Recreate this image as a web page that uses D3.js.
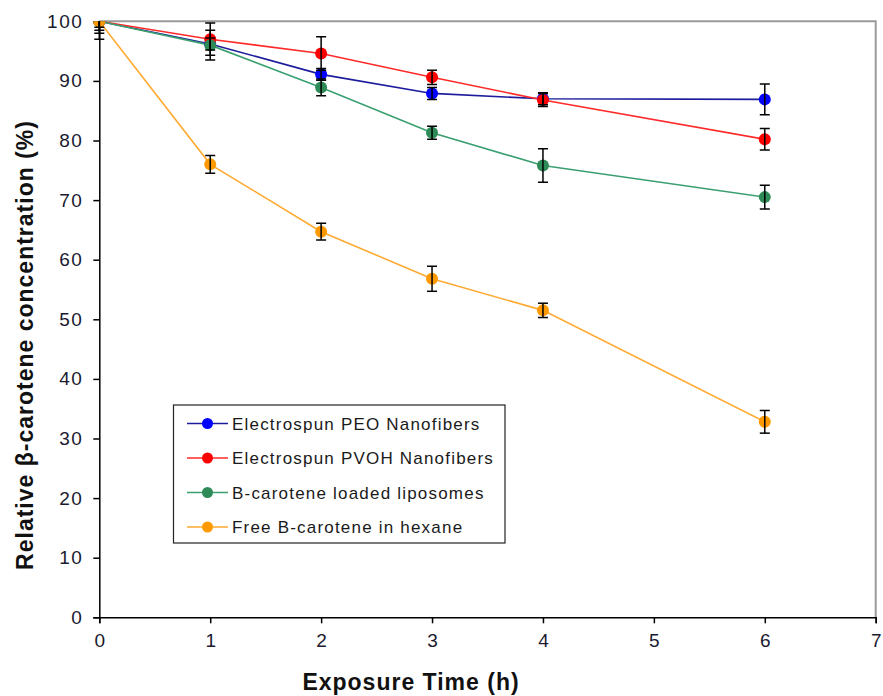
<!DOCTYPE html>
<html><head><meta charset="utf-8">
<script src="https://cdn.jsdelivr.net/npm/d3@7"></script>
<style>body{margin:0;background:#fff}svg{display:block;font-family:"Liberation Sans",Arial,sans-serif}</style>
</head><body><svg id="c" width="883" height="696"></svg>
<script>
const hours = [0, 1, 2, 3, 4, 6];
const seriesNames = ["Electrospun PEO Nanofibers", "Electrospun PVOH Nanofibers", "B-carotene loaded liposomes", "Free B-carotene in hexane"];
const peoValues   = [100, 96.2, 91.1, 87.9, 87.0, 86.9];
const peoErrors   = [1.5, 1.0, 1.0, 1.0, 1.0, 2.6];
const pvohValues  = [100, 97.0, 94.6, 90.6, 86.8, 80.2];
const pvohErrors  = [2.0, 2.7, 2.8, 1.2, 1.1, 1.8];
const lipoValues  = [100, 96.0, 88.9, 81.3, 75.8, 70.5];
const lipoErrors  = [3.0, 2.5, 1.4, 1.1, 2.8, 2.0];
const freeValues  = [100, 76.0, 64.7, 56.8, 51.5, 32.8];
const freeErrors  = [1.0, 1.5, 1.4, 2.1, 1.2, 1.9];
const xTicks = [0, 1, 2, 3, 4, 5, 6, 7];
const yTicks = [0, 10, 20, 30, 40, 50, 60, 70, 80, 90, 100];

const series = [
  {name: seriesNames[0], v: peoValues,  e: peoErrors,  fill: "#0000ff", line: "#1c1c9c"},
  {name: seriesNames[1], v: pvohValues, e: pvohErrors, fill: "#ff0000", line: "#ff2a2a"},
  {name: seriesNames[2], v: lipoValues, e: lipoErrors, fill: "#2e8b57", line: "#3aa070"},
  {name: seriesNames[3], v: freeValues, e: freeErrors, fill: "#ff9900", line: "#ffaa33"}
];

const svg = d3.select("#c");
const L = 99.3, R = 875.7, T = 21.3, B = 617.3;
const x = d3.scaleLinear().domain([0, 7]).range([L, R]);
const y = d3.scaleLinear().domain([0, 100]).range([B, T]);

svg.append("path").attr("d", `M${L},${T}H${R}V${B}`).attr("fill", "none").attr("stroke", "#9a9a9a").attr("stroke-width", 2);

svg.append("defs").append("clipPath").attr("id", "clip")
  .append("rect").attr("x", L - 20).attr("y", T).attr("width", R - L + 40).attr("height", B - T + 20);

const gx = svg.append("g").attr("transform", `translate(0,${B})`)
  .call(d3.axisBottom(x).tickValues(xTicks).tickFormat(d3.format("d")).tickSize(6).tickPadding(8));
const gy = svg.append("g").attr("transform", `translate(${L},0)`)
  .call(d3.axisLeft(y).tickValues(yTicks).tickFormat(d3.format("d")).tickSize(6).tickPadding(10));
[gx, gy].forEach(g => {
  g.select(".domain").attr("stroke", "#000").attr("stroke-width", 1.5);
  g.selectAll(".tick line").attr("stroke", "#000").attr("stroke-width", 1.5);
  g.selectAll(".tick text").attr("fill", "#1a1a30").style("font-size", "19px")
    .style("letter-spacing", "1.5px").style("font-family", "Liberation Sans, Arial, sans-serif");
});
gx.selectAll(".tick text").attr("dy", "0.82em").attr("dx", "0.75px");

const plot = svg.append("g").attr("clip-path", "url(#clip)");
const line = d3.line().x((d, i) => x(hours[i])).y(d => y(d));
series.forEach(s => {
  plot.append("path").datum(s.v).attr("d", line).attr("fill", "none")
    .attr("stroke", s.line).attr("stroke-width", 1.6);
});
series.forEach(s => {
  plot.selectAll(null).data(s.v).enter().append("circle")
    .attr("cx", (d, i) => x(hours[i])).attr("cy", d => y(d)).attr("r", 6).attr("fill", s.fill);
});
series.forEach(s => {
  const g = plot.append("g").attr("stroke", "#000").attr("stroke-width", 1.5);
  s.v.forEach((v, i) => {
    const cx = x(hours[i]), y1 = y(v + s.e[i]), y2 = y(v - s.e[i]);
    g.append("line").attr("x1", cx).attr("x2", cx).attr("y1", y1).attr("y2", y2);
    g.append("line").attr("x1", cx - 5).attr("x2", cx + 5).attr("y1", y1).attr("y2", y1);
    g.append("line").attr("x1", cx - 5).attr("x2", cx + 5).attr("y1", y2).attr("y2", y2);
  });
});

// legend
const lg = svg.append("g");
lg.append("rect").attr("x", 173.5).attr("y", 405).attr("width", 331.5).attr("height", 138)
  .attr("fill", "#fff").attr("stroke", "#222").attr("stroke-width", 1.2);
series.forEach((s, i) => {
  const yy = 423.5 + i * 34.5;
  lg.append("line").attr("x1", 187).attr("x2", 228).attr("y1", yy).attr("y2", yy).attr("stroke", s.line).attr("stroke-width", 1.6);
  lg.append("circle").attr("cx", 207.5).attr("cy", yy).attr("r", 5.5).attr("fill", s.fill);
  lg.append("text").attr("x", 232).attr("y", yy).attr("dy", "0.36em").attr("fill", "#1a1a1a")
    .style("font-size", "17px").style("letter-spacing", "1.2px").text(s.name);
});

svg.append("text").attr("x", 411).attr("y", 690).attr("text-anchor", "middle")
  .style("font-size", "23px").style("font-weight", "bold").style("letter-spacing", "1px")
  .attr("fill", "#111").text("Exposure Time (h)");
svg.append("text").attr("transform", "translate(33,345) rotate(-90)").attr("text-anchor", "middle")
  .style("font-size", "23px").style("font-weight", "bold").style("letter-spacing", "1px")
  .attr("fill", "#111").text("Relative β-carotene concentration (%)");
</script></body></html>
